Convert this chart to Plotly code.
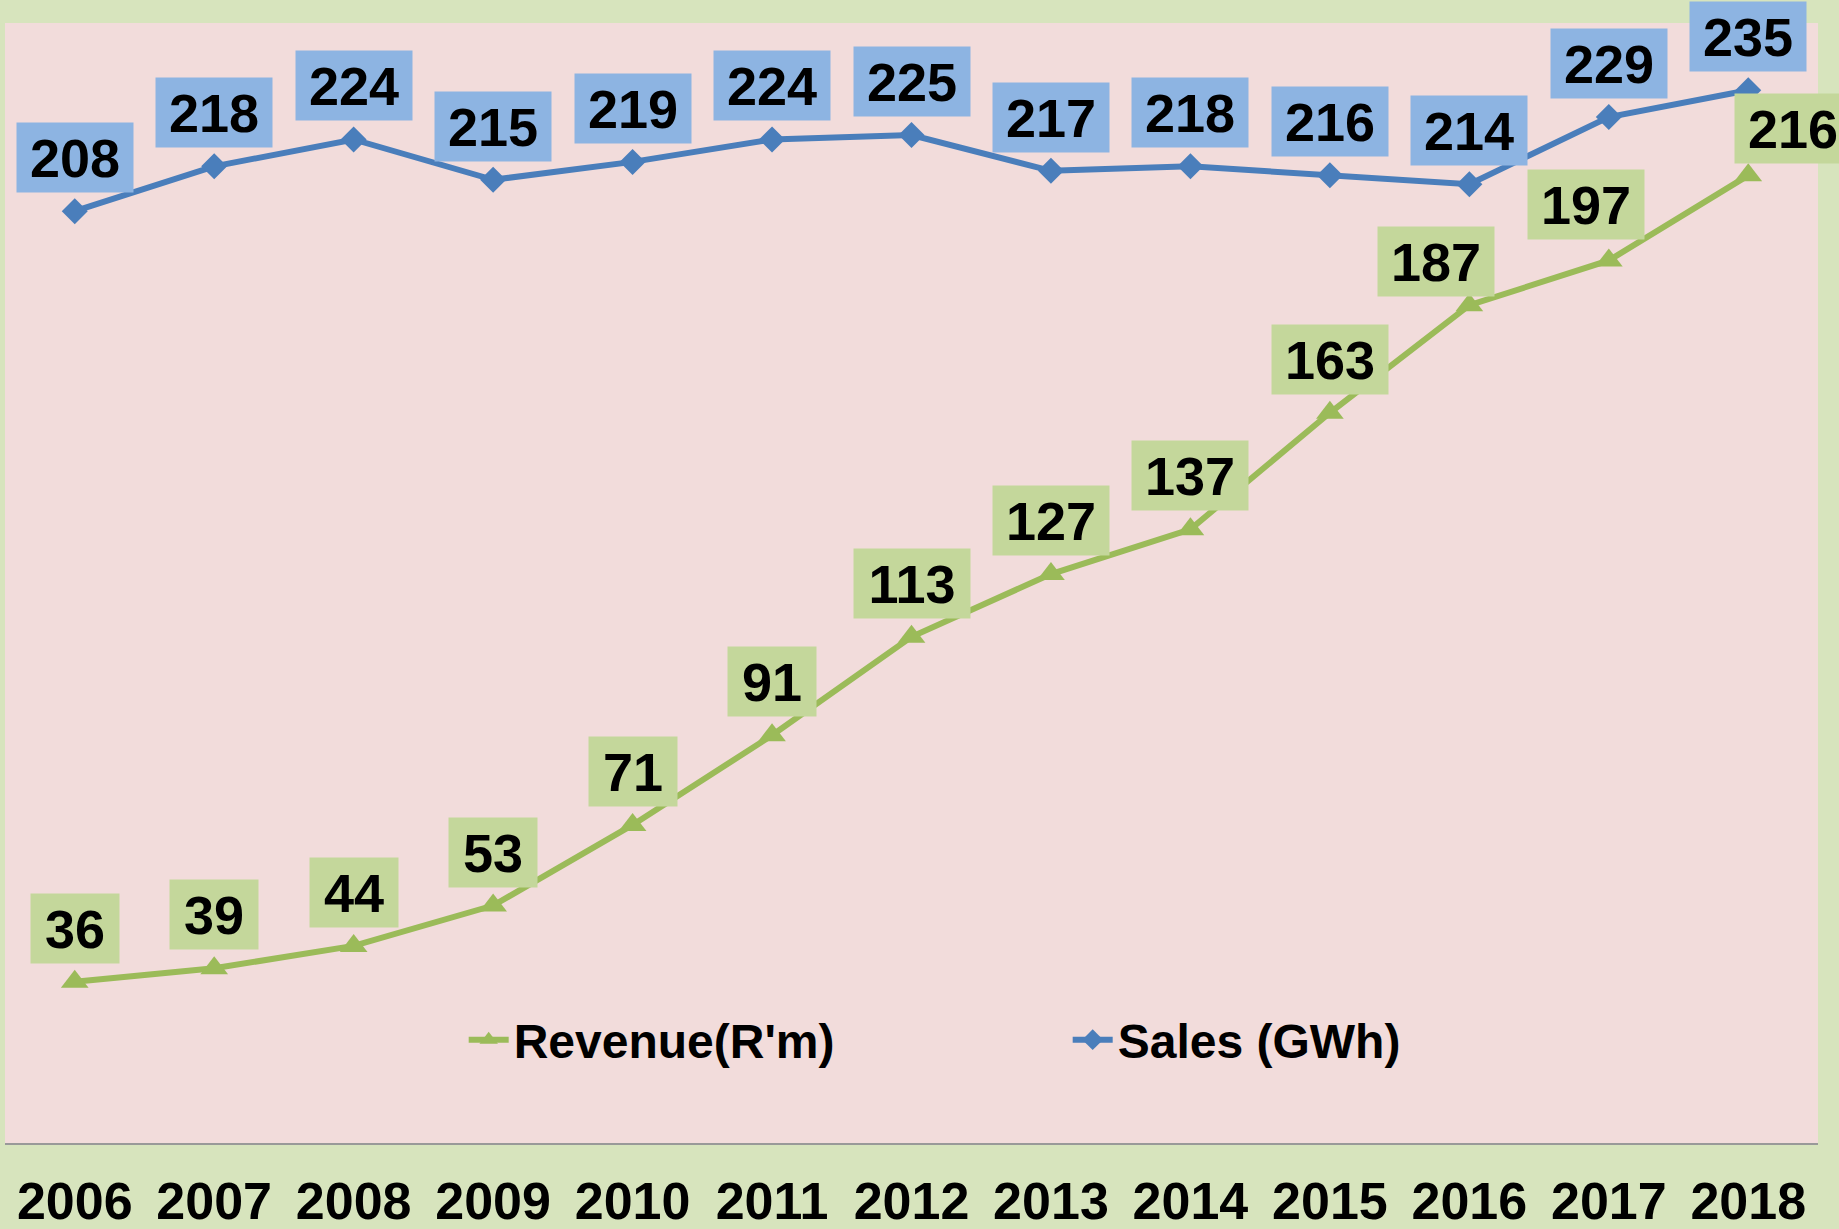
import plotly.graph_objects as go

years = ["2006", "2007", "2008", "2009", "2010", "2011", "2012",
         "2013", "2014", "2015", "2016", "2017", "2018"]
revenue = [36, 39, 44, 53, 71, 91, 113, 127, 137, 163, 187, 197, 216]
sales = [208, 218, 224, 215, 219, 224, 225, 217, 218, 216, 214, 229, 235]

BLUE = "#4a7ebb"
GREEN = "#9bbb59"
BLUE_BOX = "#8db4e2"
GREEN_BOX = "#c4d79b"
FONT = "Liberation Sans, Arial, sans-serif"

# label nudges (dx px, gap above marker px) for the few labels moved by hand
revenue_nudge = {"2016": (-33, 8), "2017": (-23, 20), "2018": (45, 11)}

fig = go.Figure()

fig.add_trace(
    go.Scatter(
        x=years,
        y=revenue,
        mode="lines+markers",
        name="Revenue(R'm)",
        line=dict(color=GREEN, width=6),
        marker=dict(symbol="triangle-up", size=24, color=GREEN),
    )
)
fig.add_trace(
    go.Scatter(
        x=years,
        y=sales,
        mode="lines+markers",
        name="Sales (GWh)",
        line=dict(color=BLUE, width=6),
        marker=dict(symbol="diamond", size=20, color=BLUE),
    )
)


def add_labels(values, box_color, nudges):
    for i, v in enumerate(values):
        text = str(v)
        dx, gap = nudges.get(years[i], (0, 18))
        fig.add_annotation(
            x=i,
            y=v,
            xref="x",
            yref="y",
            text=f"<b>{text}</b>",
            showarrow=False,
            yanchor="bottom",
            xshift=dx,
            yshift=gap,
            width=28 * len(text) + 32,
            height=69,
            bgcolor=box_color,
            borderpad=0,
            font=dict(family=FONT, size=54, color="black"),
        )


add_labels(sales, BLUE_BOX, {})
add_labels(revenue, GREEN_BOX, revenue_nudge)

fig.update_layout(
    width=1839,
    height=1229,
    paper_bgcolor="#d7e4bd",
    plot_bgcolor="#f2dcdb",
    margin=dict(l=5, r=21, t=23, b=86),
    showlegend=True,
    legend=dict(
        orientation="h",
        x=0.253,
        xanchor="left",
        y=0.092,
        yanchor="middle",
        bgcolor="rgba(0,0,0,0)",
        font=dict(family=FONT, size=48, color="black", weight=700),
        entrywidth=549,
        entrywidthmode="pixels",
        itemwidth=40,
    ),
)
fig.update_xaxes(
    type="category",
    range=[-0.5, 12.5],
    showgrid=False,
    showline=True,
    linecolor="#999999",
    linewidth=2,
    ticks="",
    ticklabelstandoff=12,
    tickfont=dict(family=FONT, size=52, color="black", weight=700),
    automargin=False,
)
fig.update_yaxes(
    range=[0, 250],
    showgrid=False,
    zeroline=False,
    showticklabels=False,
    showline=False,
    automargin=False,
)

fig.write_html(
    "out.html",
    config={"displayModeBar": False},
    post_script="document.body.style.margin='0px';",
)
